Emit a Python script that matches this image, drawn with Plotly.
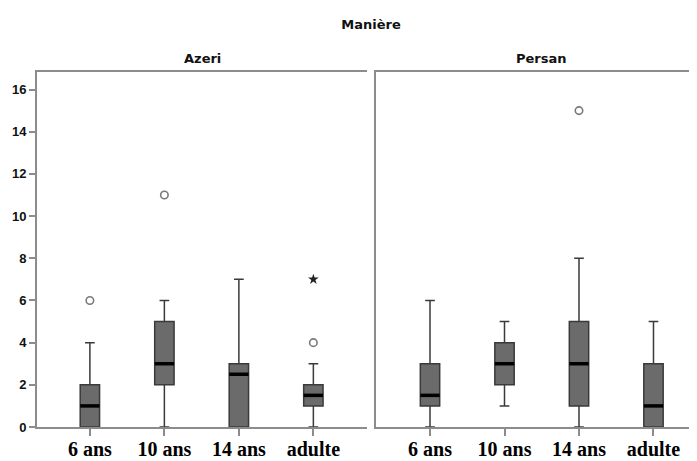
import plotly.graph_objects as go

# ---- data ----
categories = ["6 ans", "10 ans", "14 ans", "adulte"]

azeri_q1 = [0, 2, 0, 1]
azeri_median = [1, 3, 2.5, 1.5]
azeri_q3 = [2, 5, 3, 2]
azeri_low = [0, 0, 0, 0]
azeri_high = [4, 6, 7, 3]
azeri_outliers_cat = ["6 ans", "10 ans", "adulte"]
azeri_outliers_val = [6, 11, 4]
azeri_extreme_cat = ["adulte"]
azeri_extreme_val = [7]

persan_q1 = [1, 2, 1, 0]
persan_median = [1.5, 3, 3, 1]
persan_q3 = [3, 4, 5, 3]
persan_low = [0, 1, 0, 0]
persan_high = [6, 5, 8, 5]
persan_outliers_cat = ["14 ans"]
persan_outliers_val = [15]

y_ticks = [0, 2, 4, 6, 8, 10, 12, 14, 16]

# ---- styling ----
FRAME = "#8c8c8c"
BOX_FILL = "#6b6b6b"
BOX_LINE = "#3a3a3a"
BOX_W = 0.26
OFF = 8                      # page body margin of the html page
W, H = 697 - OFF, 461 - OFF
L, T, B = 37 - OFF, 72 - OFF, 34
plot_w = W - L

pos = {c: i for i, c in enumerate(categories)}

fig = go.Figure()


def add_panel(xa, ya, q1, med, q3, lo, hi, out_c, out_v, ext_c=None, ext_v=None):
    xs = [pos[c] for c in categories]
    fig.add_trace(go.Box(
        x=xs, q1=q1, median=med, q3=q3, lowerfence=lo, upperfence=hi,
        width=BOX_W, whiskerwidth=0.5, fillcolor=BOX_FILL,
        line=dict(color=BOX_LINE, width=1.5), boxpoints=False,
        xaxis=xa, yaxis=ya, showlegend=False, hoverinfo="skip"))
    mx, my = [], []
    for x, m in zip(xs, med):
        mx += [x - BOX_W / 2, x + BOX_W / 2, None]
        my += [m, m, None]
    fig.add_trace(go.Scatter(x=mx, y=my, mode="lines",
                             line=dict(color="#000000", width=3.5),
                             xaxis=xa, yaxis=ya, showlegend=False, hoverinfo="skip"))
    fig.add_trace(go.Scatter(x=[pos[c] for c in out_c], y=out_v, mode="markers",
                             marker=dict(symbol="circle-open", size=7.5, color="#7a7a7a",
                                         line=dict(width=1.6, color="#7a7a7a")),
                             xaxis=xa, yaxis=ya, showlegend=False, hoverinfo="skip"))
    if ext_c:
        fig.add_trace(go.Scatter(x=[pos[c] for c in ext_c], y=ext_v, mode="markers",
                                 marker=dict(symbol="star", size=8, color="#222222"),
                                 xaxis=xa, yaxis=ya, showlegend=False, hoverinfo="skip"))


add_panel("x", "y", azeri_q1, azeri_median, azeri_q3, azeri_low, azeri_high,
          azeri_outliers_cat, azeri_outliers_val, azeri_extreme_cat, azeri_extreme_val)
add_panel("x2", "y2", persan_q1, persan_median, persan_q3, persan_low, persan_high,
          persan_outliers_cat, persan_outliers_val)

xtick_font = dict(family="Liberation Serif, Times New Roman, serif", size=20, color="#000000")
ytick_font = dict(family="Liberation Sans Narrow, Arial Narrow, Liberation Sans, Arial",
                  size=13, color="#111111")
title_font = dict(family="DejaVu Sans, Verdana, sans-serif", size=13, color="#111111")

common_x = dict(tickmode="array", tickvals=list(range(len(categories))),
                ticktext=[f"<b>{c}</b>" for c in categories],
                ticks="outside", ticklen=7, tickwidth=1.5, tickcolor=FRAME,
                ticklabelstandoff=-4,
                showline=True, linecolor=FRAME, linewidth=2, mirror=True,
                showgrid=False, zeroline=False, tickfont=xtick_font, fixedrange=True,
                automargin=False)

fig.update_layout(
    width=W, height=H,
    margin=dict(l=L, r=0, t=T, b=B, autoexpand=False),
    paper_bgcolor="white", plot_bgcolor="white",
    xaxis=dict(domain=[0, 330 / plot_w], range=[-0.71, 3.72], **common_x),
    xaxis2=dict(domain=[339 / plot_w, 1], range=[-0.725, 3.584], anchor="y2", **common_x),
    yaxis=dict(range=[0, 16.83], tickmode="array", tickvals=y_ticks,
               ticktext=[f"<b>{v}</b>" for v in y_ticks],
               ticks="outside", ticklen=6, tickwidth=1.5, tickcolor=FRAME,
               showline=True, linecolor=FRAME, linewidth=2, mirror=False,
               showgrid=False, zeroline=False, tickfont=ytick_font, fixedrange=True,
               automargin=False),
    yaxis2=dict(range=[0, 16.83], anchor="x2", showticklabels=False, ticks="",
                showline=True, linecolor=FRAME, linewidth=2, mirror=False,
                showgrid=False, zeroline=False, fixedrange=True, automargin=False),
    title=dict(text="<b>Manière</b>", x=(371 - OFF) / W, xanchor="center",
               y=1 - (24 - OFF) / H, yanchor="middle", font=title_font),
    annotations=[
        dict(text="<b>Azeri</b>", xref="paper", yref="paper", x=(202 - 37) / plot_w, y=1.039,
             xanchor="center", yanchor="middle", showarrow=False, font=title_font),
        dict(text="<b>Persan</b>", xref="paper", yref="paper", x=(541 - 37) / plot_w, y=1.039,
             xanchor="center", yanchor="middle", showarrow=False, font=title_font),
    ],
)

fig.write_html("out.html")
